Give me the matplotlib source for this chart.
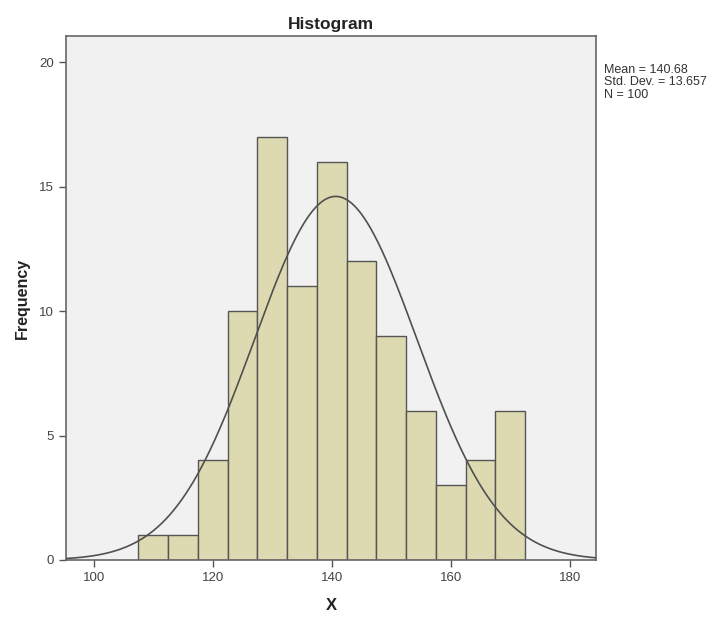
import numpy as np
import matplotlib
matplotlib.use("Agg")
import matplotlib.pyplot as plt

plt.rcParams['font.family'] = ['Liberation Sans', 'DejaVu Sans']

# data
bin_start = 107.5
bin_width = 5.0
counts = [1, 1, 4, 10, 17, 11, 16, 12, 9, 6, 3, 4, 6]
mean = 140.68
std_dev = 13.657
n = 100
x_ticks = [100, 120, 140, 160, 180]
y_ticks = [0, 5, 10, 15, 20]

edges = bin_start + bin_width * np.arange(len(counts) + 1)

fig = plt.figure(figsize=(7.18, 6.17), dpi=100)
ax = fig.add_axes([0.092, 0.0924, 0.738, 0.8493])
ax.set_facecolor('#f1f1f1')

ax.bar(edges[:-1], counts, width=bin_width, align='edge',
       color='#ddd9b0', edgecolor='#555555', linewidth=1.0, zorder=2)

xlim = (95.36, 184.4)
xs = np.linspace(xlim[0], xlim[1], 400)
pdf = n * bin_width / (std_dev * np.sqrt(2 * np.pi)) * np.exp(-0.5 * ((xs - mean) / std_dev) ** 2)
ax.plot(xs, pdf, color='#505050', linewidth=1.2, zorder=3)

ax.set_xlim(*xlim)
ax.set_ylim(0, 21.05)
ax.set_xticks(x_ticks)
ax.set_yticks(y_ticks)
ax.tick_params(direction='out', length=5, width=1, color='#555555',
               labelsize=9.5, labelcolor='#444444')

for s in ax.spines.values():
    s.set_color('#666666')
    s.set_linewidth(1.2)

ax.set_title('Histogram', fontsize=12.5, fontweight='bold', color='#222222', pad=5)
ax.set_xlabel('X', fontsize=12, fontweight='bold', color='#222222', labelpad=10)
ax.set_ylabel('Frequency', fontsize=11.5, fontweight='bold', color='#222222', labelpad=7)

fig.text(604 / 718, 1 - 64 / 617,
         f'Mean = {mean}\nStd. Dev. = {std_dev}\nN = {n}',
         fontsize=9, color='#333333', va='top', ha='left', linespacing=1.05)

fig.savefig('out.png', dpi=100)
